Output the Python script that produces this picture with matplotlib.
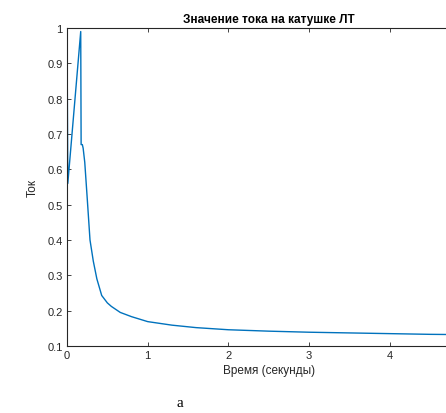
import matplotlib
matplotlib.use("Agg")
import matplotlib.pyplot as plt

# Data
time_s = [0.0, 0.01, 0.17, 0.175, 0.19, 0.20, 0.22, 0.25, 0.285, 0.326, 0.37, 0.43,
          0.5, 0.55, 0.66, 0.8, 1.0, 1.3, 1.6, 2.0, 2.5, 3.0, 3.5, 4.0, 4.5, 5.0]
current = [1.0, 0.56, 0.99, 0.67, 0.67, 0.66, 0.62, 0.52, 0.40, 0.34, 0.29, 0.243,
           0.222, 0.212, 0.195, 0.183, 0.169, 0.159, 0.152, 0.146, 0.142, 0.139, 0.137, 0.135, 0.133, 0.132]
x_ticks = [0, 1, 2, 3, 4]
y_ticks = [0.1, 0.2, 0.3, 0.4, 0.5, 0.6, 0.7, 0.8, 0.9, 1.0]
y_tick_labels = ["0.1", "0.2", "0.3", "0.4", "0.5", "0.6", "0.7", "0.8", "0.9", "1"]

plt.rcParams['font.family'] = ['Liberation Sans', 'DejaVu Sans']

W, H = 446, 414
fig = plt.figure(figsize=(W / 100, H / 100), dpi=100)
left, right_px, top, bottom = 67, 67 + 5 * 80.7, 29, 347
ax = fig.add_axes([left / W, (H - bottom) / H, (right_px - left) / W, (bottom - top) / H])

ax.plot(time_s, current, color='#0072BD', lw=1.0)
ax.set_xlim(0, 5)
ax.set_ylim(0.1, 1.0)
ax.set_xticks(x_ticks)
ax.set_yticks(y_ticks)
ax.set_yticklabels(y_tick_labels)

edge = '#262626'
for s in ax.spines.values():
    s.set_color(edge)
    s.set_linewidth(0.8)
ax.tick_params(direction='in', length=3, width=0.6, colors=edge, labelsize=8,
               top=True, right=True, labelcolor='#262626', pad=3)

ax.set_title('Значение тока на катушке ЛТ', fontsize=8.5, fontweight='bold', color='black', pad=4)
ax.set_xlabel('Время (секунды)', fontsize=8.5, color='#262626', labelpad=3)
ax.set_ylabel('Ток', fontsize=8.5, color='#262626', labelpad=6)

fig.text(180 / W, 1 - 404 / H, 'a', family='Liberation Serif', fontsize=11, ha='center', va='center')

fig.savefig('out.png', dpi=100)
